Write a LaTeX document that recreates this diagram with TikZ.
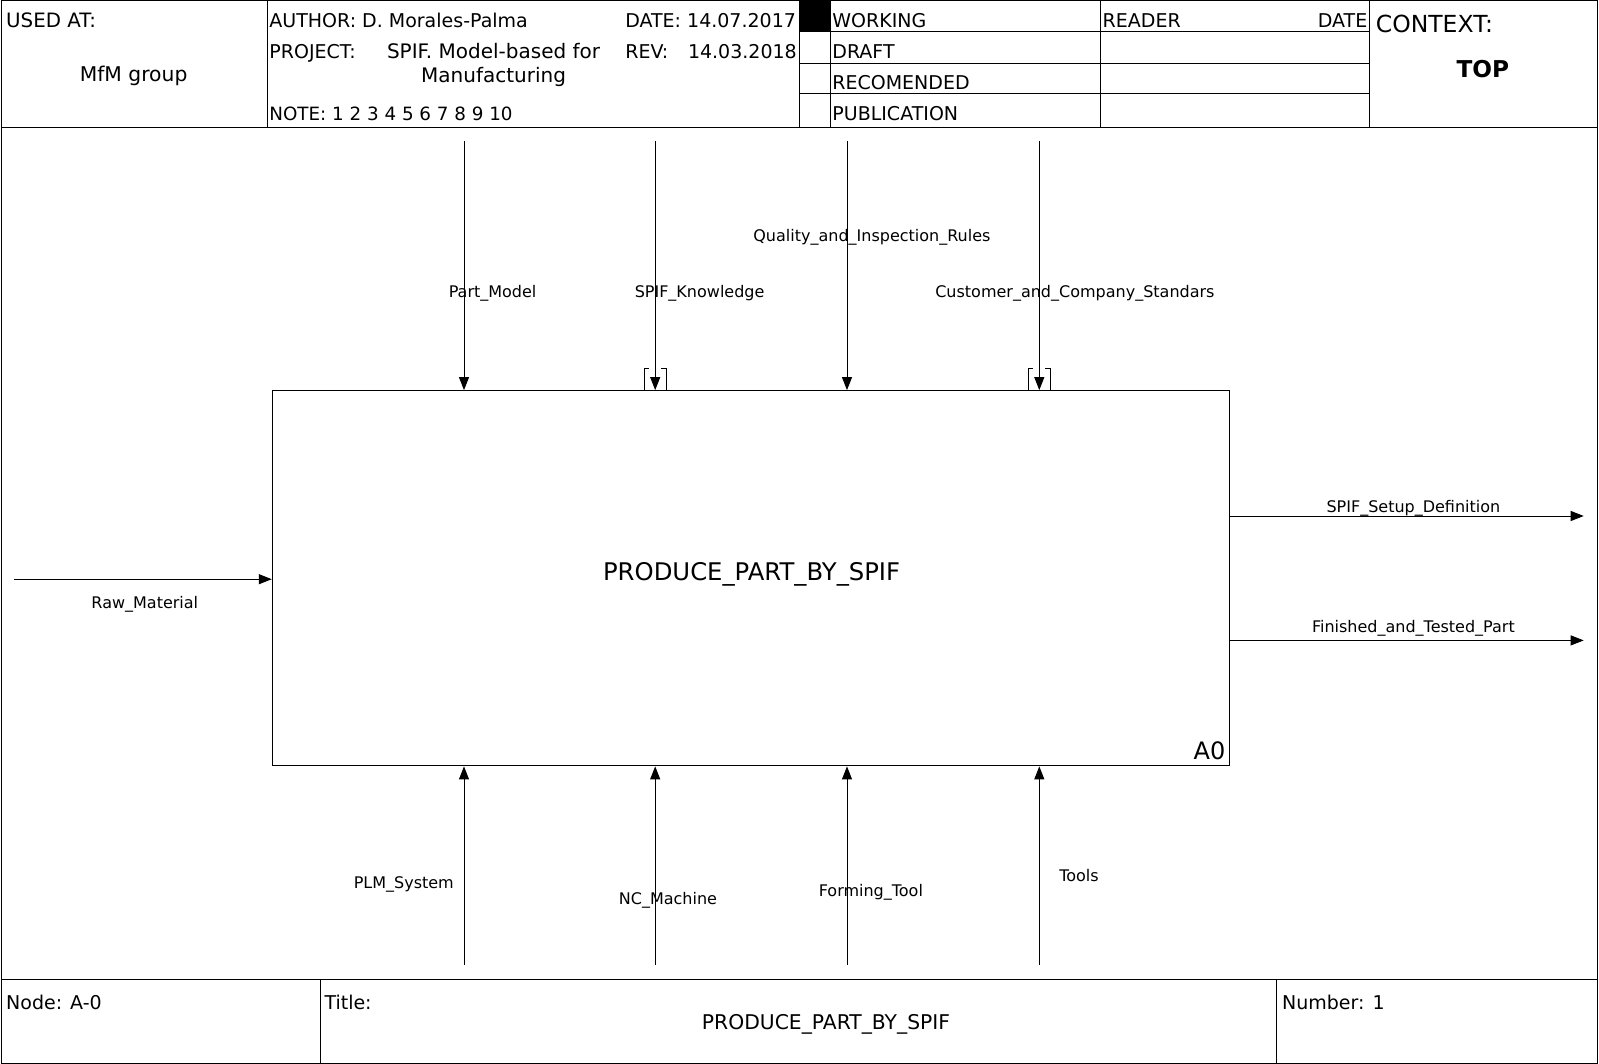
\documentclass[tikz,border=0pt]{standalone}
\usepackage{fontspec}
\setmainfont{DejaVu Sans}
\usetikzlibrary{arrows.meta}
\begin{document}
\begin{tikzpicture}[x=1pt,y=-1pt,
  frame/.style={line width=1pt,draw=black},
  hdr/.style={inner sep=0pt,font=\fontsize{19}{22}\selectfont},
  lbl/.style={inner sep=0pt,font=\fontsize{16}{18}\selectfont},
  arr/.style={line width=1pt,-{Triangle[length=13pt,width=10pt]}},
  tun/.style={line width=1pt}]
\useasboundingbox (0,0) rectangle (1599,1064);
% outer frame and table lines
\draw[frame] (1,1) rectangle (1597,1063);
\draw[frame] (1,127.5) -- (1597,127.5);
\draw[frame] (267.2,1) -- (267.2,127.5);
\draw[frame] (799.5,1) -- (799.5,127.5);
\draw[frame] (830.1,1) -- (830.1,127.5);
\draw[frame] (1100.4,1) -- (1100.4,127.5);
\draw[frame] (1369.6,1) -- (1369.6,127.5);
\foreach \yy in {31.6,63.2,93.8}{\draw[frame] (799.5,\yy) -- (1369.6,\yy);}
\fill[black] (799.5,1) rectangle (830.1,31.6);
\draw[frame] (1,979) -- (1597,979);
\draw[frame] (320.2,979) -- (320.2,1063);
\draw[frame] (1276.8,979) -- (1276.8,1063);
% header texts
\node[hdr,anchor=base west,font=\fontsize{19.8}{22}\selectfont] (usedat) at (6,28) {USED AT:};
\node[inner sep=0pt,font=\fontsize{20.3}{23}\selectfont] (mfm) at (133.6,75.5) {MfM group};
\node[hdr,anchor=base west] (author) at (269.2,28) {AUTHOR: D. Morales-Palma};
\node[hdr,anchor=base west] (project) at (269.2,58.5) {PROJECT:};
\node[inner sep=0pt,align=center,font=\fontsize{20}{24.5}\selectfont] (projname) at (493.6,65) {SPIF. Model-based for\\Manufacturing};
\node[inner sep=0pt,anchor=base west,font=\fontsize{18.3}{21}\selectfont] (note) at (269.2,120.5) {NOTE: 1 2 3 4 5 6 7 8 9 10};
\node[hdr,anchor=base west] (date) at (625.1,28) {DATE: 14.07.2017};
\node[hdr,anchor=base west] (rev) at (625.1,58.5) {REV:};
\node[hdr,anchor=base east] (revdate) at (797,58.5) {14.03.2018};
\node[hdr,anchor=base west] (working) at (832.2,28) {WORKING};
\node[hdr,anchor=base west] (draft) at (832.2,58.5) {DRAFT};
\node[hdr,anchor=base west] (recom) at (832.2,89.5) {RECOMENDED};
\node[hdr,anchor=base west] (pub) at (832.2,120.5) {PUBLICATION};
\node[hdr,anchor=base west] (reader) at (1102.5,28) {READER};
\node[hdr,anchor=base east] (rdate) at (1367.5,28) {DATE};
\node[inner sep=0pt,anchor=west,font=\fontsize{23.5}{26}\selectfont] (context) at (1375.7,24) {CONTEXT:};
\node[inner sep=0pt,font=\fontsize{23.2}{26}\selectfont\bfseries] (top) at (1482.8,69) {TOP};
% footer texts
\node[hdr,anchor=west] (nodeid) at (6,1002.5) {Node: A-0};
\node[hdr,anchor=west] (titlel) at (324.3,1002.5) {Title:};
\node[inner sep=0pt,font=\fontsize{20.3}{23}\selectfont] (title) at (826,1024.5) {PRODUCE\_PART\_BY\_SPIF};
\node[hdr,anchor=west] (number) at (1281.9,1002.5) {Number: 1};
% main box
\node[draw,line width=1pt,minimum width=957.6pt,minimum height=375.3pt,inner sep=0pt] (box) at (751.1,578.25) {};
\node[inner sep=0pt,font=\fontsize{24.3}{27}\selectfont] (boxtext) at (751.6,574.2) {PRODUCE\_PART\_BY\_SPIF};
\node[inner sep=0pt,anchor=south east,font=\fontsize{24}{27}\selectfont] (a0) at (1225.5,760.5) {A0};
% coordinates for arrow ends
\coordinate (c1) at (464,140.7);
\coordinate (c2) at (655.2,140.7);
\coordinate (c3) at (847,140.7);
\coordinate (c4) at (1039.3,140.7);
\coordinate (m1) at (464,964.7);
\coordinate (m2) at (655.2,964.7);
\coordinate (m3) at (847,964.7);
\coordinate (m4) at (1039.3,964.7);
\coordinate (inp) at (14.3,579.2);
\coordinate (o1) at (1583.7,516);
\coordinate (o2) at (1583.7,640.4);
% controls
\draw[arr] (c1) -- (c1 |- box.north);
\draw[arr] (c2) -- (c2 |- box.north);
\draw[arr] (c3) -- (c3 |- box.north);
\draw[arr] (c4) -- (c4 |- box.north);
% tunnels
\foreach \cc in {c2,c4}{
  \draw[tun] ([xshift=-11pt]\cc |- box.north) -- ++(0,-21.3) -- ++(5,0);
  \draw[tun] ([xshift=11pt]\cc |- box.north) -- ++(0,-21.3) -- ++(-5,0);
}
% mechanisms
\draw[arr] (m1) -- (m1 |- box.south);
\draw[arr] (m2) -- (m2 |- box.south);
\draw[arr] (m3) -- (m3 |- box.south);
\draw[arr] (m4) -- (m4 |- box.south);
% input and outputs
\draw[arr] (inp) -- (inp -| box.west);
\draw[arr] (o1 -| box.east) -- (o1);
\draw[arr] (o2 -| box.east) -- (o2);
% labels
\node[lbl] (lpart) at (492.6,293.6) {Part\_Model};
\node[lbl] (lspif) at (699.6,293.6) {SPIF\_Knowledge};
\node[lbl] (lqual) at (871.9,237.6) {Quality\_and\_Inspection\_Rules};
\node[lbl] (lcust) at (1074.9,293.6) {Customer\_and\_Company\_Standars};
\node[lbl] (lsetup) at (1413.4,508.8) {SPIF\_Setup\_Definition};
\node[lbl] (lfin) at (1413.4,628.1) {Finished\_and\_Tested\_Part};
\node[lbl] (lraw) at (144.8,604.7) {Raw\_Material};
\node[lbl] (lplm) at (403.8,884.1) {PLM\_System};
\node[lbl] (lnc) at (668,900.4) {NC\_Machine};
\node[lbl] (lform) at (870.9,892.3) {Forming\_Tool};
\node[lbl] (ltools) at (1079,875.5) {Tools};
\end{tikzpicture}
\end{document}
